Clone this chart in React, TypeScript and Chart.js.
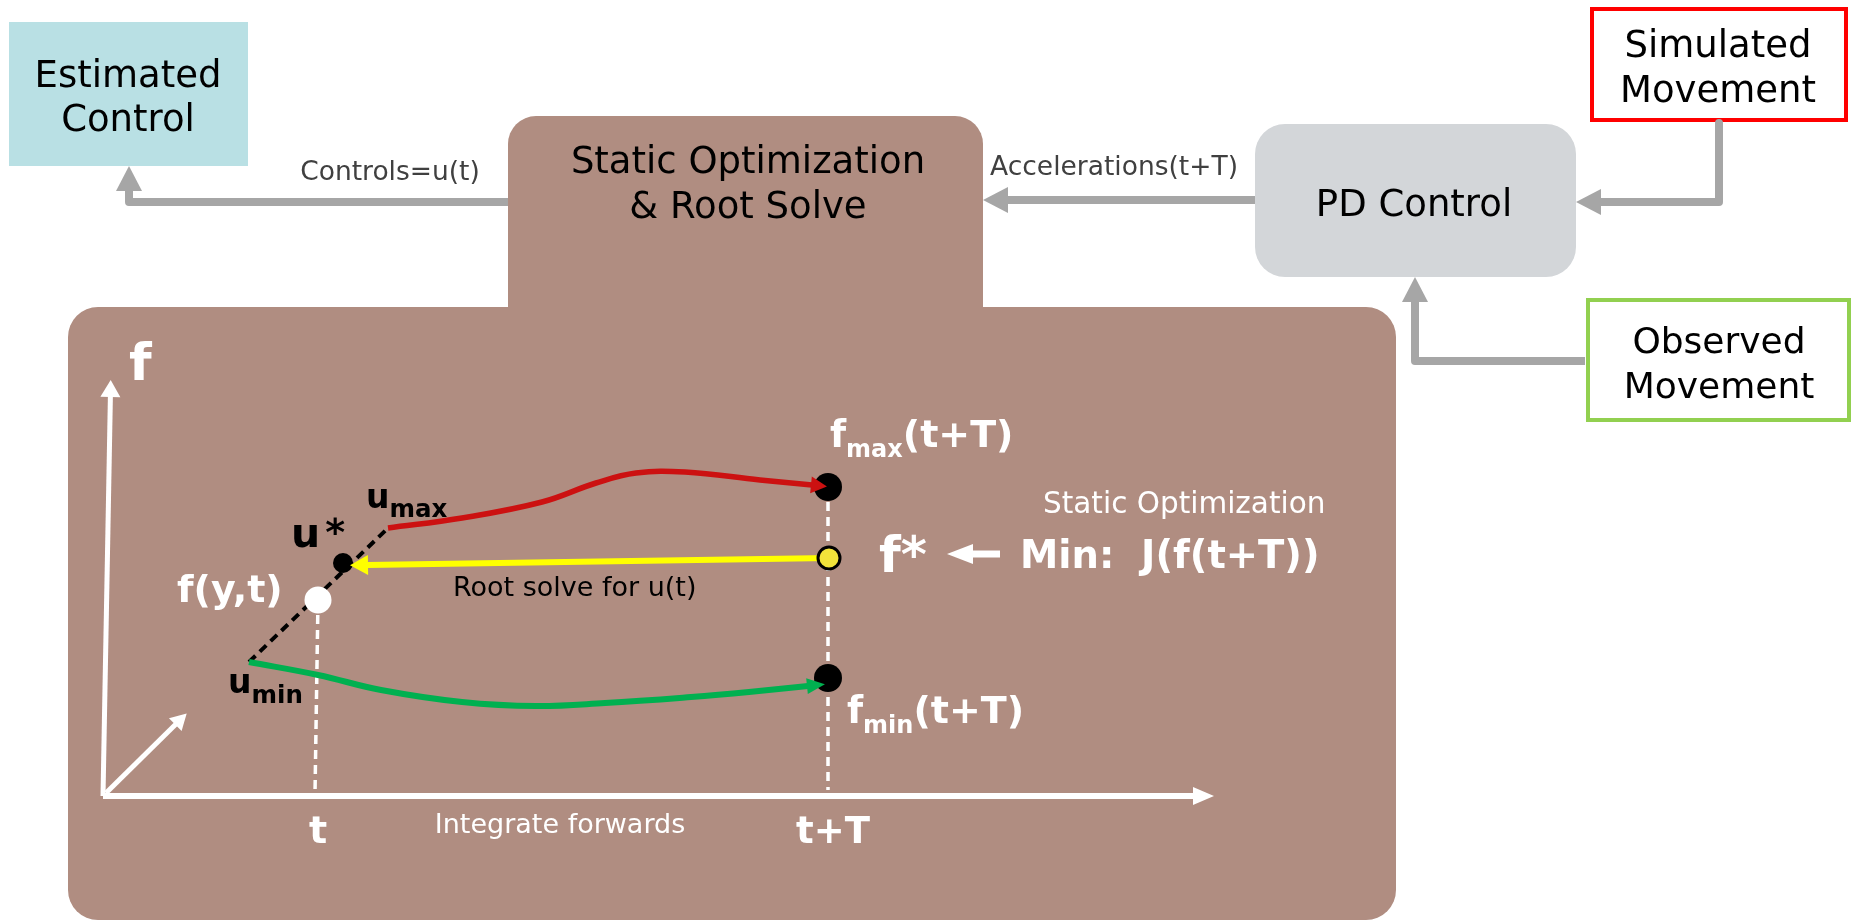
import React, { useEffect, useRef } from "react";
import { Chart, registerables } from "chart.js";

Chart.register(...registerables);

const FONT = '"DejaVu Sans", Verdana, sans-serif';

// ---------- data (diagram units: origin at the plot origin, x to the right, y upwards) ----------
const redX = [285, 359, 439, 493, 533, 582, 657, 709];
const redY = [268, 278, 294, 313, 323, 324, 316, 311];
const greenX = [146, 215, 278, 359, 433, 502, 588, 646, 705];
const greenY = [134, 121, 106, 94, 90, 93, 99, 104, 110];
const yellowX = [726, 264];
const yellowY = [238, 231];
const uLineX = [146, 285];
const uLineY = [134, 268];
const tLineX = [215, 212];
const tLineY = [196, 3];
const tTLineX = [725, 725];
const tTLineY = [309, 6];
const markerNames = ["f(y,t)", "u*", "f*", "fmax", "fmin"];
const markerX = [215, 240, 726, 725, 725];
const markerY = [196, 233, 238, 309, 118];
const axisFX = [0, 7.4];
const axisFY = [0, 400];
const axisTX = [0, 1091];
const axisTY = [0, 0];
const axisZX = [3, 73];
const axisZY = [3, 72];
const controlsX = [405, 26, 26];
const controlsY = [594, 594, 606];
const accelX = [1152, 904];
const accelY = [596, 596];
const simX = [1616, 1616, 1497];
const simY = [673, 594, 594];
const obsX = [1482, 1312, 1312];
const obsY = [435, 435, 495];
const minArrowX = [897, 869];
const minArrowY = [242, 242];

// ---------- layout / styles ----------
const markerRadius = [13.5, 10, 11, 14, 14];
const markerFill = ["#ffffff", "#000000", "#f2e33a", "#000000", "#000000"];
const markerBorder = ["#ffffff", "#000000", "#000000", "#000000", "#000000"];
const markerBorderW = [0, 0, 3, 0, 0];

type Box = { x0: number; x1: number; y0: number; y1: number; r: number; fill?: string; stroke?: string; lw?: number };
const boxes: Box[] = [
  { x0: -94, x1: 145, y0: 630, y1: 774, r: 0, fill: "#b9e0e4" },
  { x0: 405, x1: 880, y0: 440, y1: 680, r: 28, fill: "#b08d81" },
  { x0: -35, x1: 1293, y0: -124, y1: 489, r: 30, fill: "#b08d81" },
  { x0: 1152, x1: 1473, y0: 519, y1: 672, r: 30, fill: "#d3d6d9" },
  { x0: 1489, x1: 1743, y0: 676, y1: 787, r: 0, fill: "#ffffff", stroke: "#ff0000", lw: 4 },
  { x0: 1485, x1: 1746, y0: 376, y1: 496, r: 0, fill: "#ffffff", stroke: "#92d050", lw: 4 },
];

type Seg = { t: string; size: number; bold?: boolean; dy?: number; dx?: number };
type Label = { x: number; y: number; align: "left" | "center"; color: string; segs: Seg[] };
const labels: Label[] = [
  { x: 25, y: 709, align: "center", color: "#000", segs: [{ t: "Estimated", size: 37 }] },
  { x: 25, y: 665, align: "center", color: "#000", segs: [{ t: "Control", size: 37 }] },
  { x: 287, y: 616, align: "center", color: "#404040", segs: [{ t: "Controls=u(t)", size: 26.5 }] },
  { x: 645, y: 623, align: "center", color: "#000", segs: [{ t: "Static Optimization", size: 37 }] },
  { x: 645, y: 578, align: "center", color: "#000", segs: [{ t: "& Root Solve", size: 37 }] },
  { x: 1011, y: 621, align: "center", color: "#404040", segs: [{ t: "Accelerations(t+T)", size: 26.5 }] },
  { x: 1311, y: 580, align: "center", color: "#000", segs: [{ t: "PD Control", size: 37 }] },
  { x: 1615, y: 739, align: "center", color: "#000", segs: [{ t: "Simulated", size: 37 }] },
  { x: 1615, y: 694, align: "center", color: "#000", segs: [{ t: "Movement", size: 37 }] },
  { x: 1616, y: 443, align: "center", color: "#000", segs: [{ t: "Observed", size: 36 }] },
  { x: 1616, y: 398, align: "center", color: "#000", segs: [{ t: "Movement", size: 36 }] },
  { x: 26, y: 416, align: "left", color: "#fff", segs: [{ t: "f", size: 52, bold: true }] },
  { x: 263, y: 288, align: "left", color: "#000", segs: [{ t: "u", size: 33, bold: true }, { t: "max", size: 24.5, bold: true, dy: 9 }] },
  { x: 188, y: 249, align: "left", color: "#000", segs: [{ t: "u", size: 41, bold: true }, { t: "*", size: 38, bold: true, dx: 5, dy: -2 }] },
  { x: 74, y: 194, align: "left", color: "#fff", segs: [{ t: "f(y,t)", size: 38, bold: true }] },
  { x: 125, y: 103, align: "left", color: "#000", segs: [{ t: "u", size: 33, bold: true }, { t: "min", size: 24.5, bold: true, dy: 10 }] },
  { x: 350, y: 200, align: "left", color: "#000", segs: [{ t: "Root solve for u(t)", size: 27 }] },
  { x: 727, y: 349, align: "left", color: "#fff", segs: [{ t: "f", size: 37, bold: true }, { t: "max", size: 24, bold: true, dy: 10 }, { t: "(t+T)", size: 38, bold: true }] },
  { x: 940, y: 283, align: "left", color: "#fff", segs: [{ t: "Static Optimization", size: 29.5 }] },
  { x: 776, y: 224, align: "left", color: "#fff", segs: [{ t: "f*", size: 50, bold: true }] },
  { x: 917, y: 228, align: "left", color: "#fff", segs: [{ t: "Min:  J(f(t+T))", size: 38.5, bold: true }] },
  { x: 744, y: 73, align: "left", color: "#fff", segs: [{ t: "f", size: 37, bold: true }, { t: "min", size: 24, bold: true, dy: 10 }, { t: "(t+T)", size: 38, bold: true }] },
  { x: 215, y: -47, align: "center", color: "#fff", segs: [{ t: "t", size: 38, bold: true }] },
  { x: 457, y: -37, align: "center", color: "#fff", segs: [{ t: "Integrate forwards", size: 27 }] },
  { x: 730, y: -47, align: "center", color: "#fff", segs: [{ t: "t+T", size: 37, bold: true }] },
];

const pts = (xs: number[], ys: number[]) => xs.map((x, i) => ({ x, y: ys[i] }));

function line(label: string, xs: number[], ys: number[], color: string, width: number, order: number, extra: any = {}) {
  return {
    label,
    data: pts(xs, ys),
    showLine: true,
    borderColor: color,
    backgroundColor: color,
    borderWidth: width,
    pointRadius: 0,
    pointHoverRadius: 0,
    borderCapStyle: "butt",
    borderJoinStyle: "round",
    tension: 0,
    clip: false,
    order,
    ...extra,
  };
}

function roundRect(ctx: CanvasRenderingContext2D, x: number, y: number, w: number, h: number, r: number) {
  const rr = Math.min(r, w / 2, h / 2);
  ctx.beginPath();
  ctx.moveTo(x + rr, y);
  ctx.lineTo(x + w - rr, y);
  ctx.arcTo(x + w, y, x + w, y + rr, rr);
  ctx.lineTo(x + w, y + h - rr);
  ctx.arcTo(x + w, y + h, x + w - rr, y + h, rr);
  ctx.lineTo(x + rr, y + h);
  ctx.arcTo(x, y + h, x, y + h - rr, rr);
  ctx.lineTo(x, y + rr);
  ctx.arcTo(x, y, x + rr, y, rr);
  ctx.closePath();
}

const diagramPlugin = {
  id: "diagram",
  beforeDatasetsDraw(chart: any) {
    const { ctx } = chart;
    const sx = chart.scales.x;
    const sy = chart.scales.y;
    ctx.save();
    for (const b of boxes) {
      const x0 = sx.getPixelForValue(b.x0);
      const x1 = sx.getPixelForValue(b.x1);
      const yt = sy.getPixelForValue(b.y1);
      const yb = sy.getPixelForValue(b.y0);
      roundRect(ctx, x0, yt, x1 - x0, yb - yt, b.r);
      if (b.fill) {
        ctx.fillStyle = b.fill;
        ctx.fill();
      }
      if (b.stroke) {
        ctx.lineWidth = b.lw || 1;
        ctx.strokeStyle = b.stroke;
        ctx.stroke();
      }
    }
    ctx.restore();
  },
  afterDatasetsDraw(chart: any) {
    const { ctx } = chart;
    const sx = chart.scales.x;
    const sy = chart.scales.y;
    ctx.save();
    chart.data.datasets.forEach((ds: any, i: number) => {
      const head = ds.arrowHead;
      if (!head) return;
      const meta = chart.getDatasetMeta(i);
      const n = meta.data.length;
      const a = meta.data[n - 2];
      const b = meta.data[n - 1];
      const dx = b.x - a.x;
      const dy = b.y - a.y;
      const L = Math.hypot(dx, dy) || 1;
      const ux = dx / L;
      const uy = dy / L;
      const px = -uy;
      const py = ux;
      const bx = b.x - ux;
      const by = b.y - uy;
      ctx.beginPath();
      ctx.moveTo(b.x + ux * head.len, b.y + uy * head.len);
      ctx.lineTo(bx + px * head.half, by + py * head.half);
      ctx.lineTo(bx - px * head.half, by - py * head.half);
      ctx.closePath();
      ctx.fillStyle = ds.borderColor;
      ctx.fill();
    });
    ctx.textBaseline = "alphabetic";
    ctx.textAlign = "left";
    for (const lb of labels) {
      const fonts = lb.segs.map((s) => `${s.bold ? "bold " : ""}${s.size}px ${FONT}`);
      let total = 0;
      const widths = lb.segs.map((s, k) => {
        ctx.font = fonts[k];
        const w = ctx.measureText(s.t).width + (s.dx || 0);
        total += w;
        return w;
      });
      let x = sx.getPixelForValue(lb.x);
      const y = sy.getPixelForValue(lb.y);
      if (lb.align === "center") x -= total / 2;
      ctx.fillStyle = lb.color;
      lb.segs.forEach((s, k) => {
        ctx.font = fonts[k];
        ctx.fillText(s.t, x + (s.dx || 0), y + (s.dy || 0));
        x += widths[k];
      });
    }
    ctx.restore();
  },
};

export default function App() {
  const ref = useRef<HTMLCanvasElement | null>(null);
  useEffect(() => {
    document.body.style.margin = "0";
    document.body.style.overflow = "hidden";
    document.documentElement.style.overflow = "hidden";
    const canvas = ref.current;
    if (!canvas) return;
    const datasets: any[] = [
      {
        label: "markers",
        data: pts(markerX, markerY),
        showLine: false,
        pointRadius: markerRadius,
        pointHoverRadius: markerRadius,
        pointBackgroundColor: markerFill,
        pointBorderColor: markerBorder,
        pointBorderWidth: markerBorderW,
        clip: false,
        order: 0,
      },
      line("yellow", yellowX, yellowY, "#ffff00", 6, 1, { arrowHead: { len: 17, half: 10 } }),
      line("red", redX, redY, "#cc1111", 5.5, 2, { tension: 0.4, arrowHead: { len: 15, half: 8.5 } }),
      line("green", greenX, greenY, "#00b050", 6, 2, { tension: 0.4, arrowHead: { len: 17, half: 8 } }),
      line("u", uLineX, uLineY, "#000000", 4, 3, { borderDash: [9, 6] }),
      line("t", tLineX, tLineY, "#ffffff", 3.5, 4, { borderDash: [9, 6] }),
      line("t+T", tTLineX, tTLineY, "#ffffff", 3.5, 4, { borderDash: [9, 6] }),
      line("f axis", axisFX, axisFY, "#ffffff", 5, 5, { arrowHead: { len: 16, half: 10 } }),
      line("t axis", axisTX, axisTY, "#ffffff", 6, 5, { arrowHead: { len: 20, half: 9 } }),
      line("z axis", axisZX, axisZY, "#ffffff", 5, 5, { arrowHead: { len: 15, half: 9 } }),
      line("controls", controlsX, controlsY, "#a6a6a6", 8, 6, { arrowHead: { len: 24, half: 13 } }),
      line("accelerations", accelX, accelY, "#a6a6a6", 8, 6, { arrowHead: { len: 24, half: 13 } }),
      line("simulated", simX, simY, "#a6a6a6", 8, 6, { arrowHead: { len: 24, half: 13 } }),
      line("observed", obsX, obsY, "#a6a6a6", 8, 6, { arrowHead: { len: 24, half: 13 } }),
      line("min arrow", minArrowX, minArrowY, "#ffffff", 7, 6, { arrowHead: { len: 25, half: 10 } }),
    ];
    const chart = new Chart(canvas, {
      type: "scatter",
      data: { datasets },
      options: {
        animation: false,
        responsive: false,
        devicePixelRatio: 1,
        events: [],
        layout: { padding: 0, autoPadding: false },
        plugins: { legend: { display: false }, tooltip: { enabled: false } },
        scales: {
          x: { type: "linear", min: -103, max: 1751, display: false },
          y: { type: "linear", min: -126, max: 796, display: false },
        },
      },
      plugins: [diagramPlugin],
    } as any);
    return () => chart.destroy();
  }, []);
  return (
    <div style={{ position: "fixed", left: 0, top: 0, width: 1854, height: 922, background: "#ffffff", overflow: "hidden" }}>
      <canvas ref={ref} width={1854} height={922} style={{ display: "block", width: 1854, height: 922 }} />
    </div>
  );
}
